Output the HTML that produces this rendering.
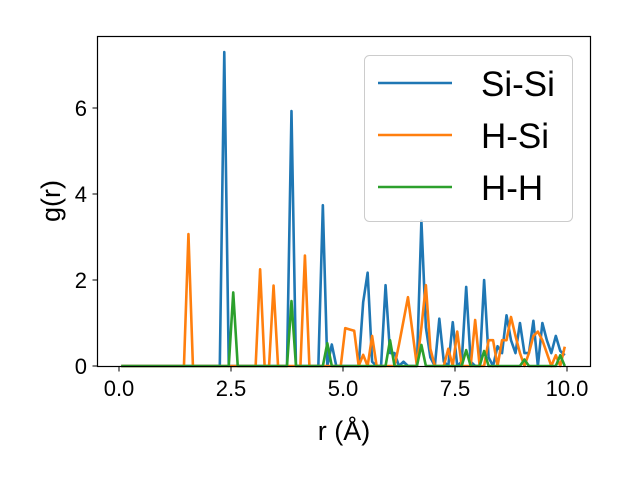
<!DOCTYPE html>
<html><head><meta charset="utf-8"><style>
html,body{margin:0;padding:0;background:#fff}
svg{display:block;font-family:"Liberation Sans","DejaVu Sans",sans-serif}
</style></head><body>
<svg id="chart" width="640" height="480" viewBox="0 0 640 480" xmlns="http://www.w3.org/2000/svg">
<rect x="0" y="0" width="640" height="480" fill="#fff"/>
<g id="series"></g>
<rect x="97.5" y="36.5" width="493" height="330" fill="none" stroke="#000" stroke-width="1.2"/>
<g id="ticks"></g>
<text x="344" y="440" font-size="27" text-anchor="middle">r (Å)</text>
<text x="60" y="201" font-size="27" text-anchor="middle" transform="rotate(-90 60 201)">g(r)</text>
<g>
<rect x="364.5" y="55.5" width="208" height="166" rx="5" fill="#fff" fill-opacity="0.8" stroke="#ccc" stroke-width="1"/>
<line x1="378" y1="83" x2="452" y2="83" stroke="#1f77b4" stroke-width="2.6"/>
<text x="481" y="96" font-size="35">Si-Si</text>
<line x1="378" y1="135" x2="452" y2="135" stroke="#ff7f0e" stroke-width="2.6"/>
<text x="481" y="148" font-size="35">H-Si</text>
<line x1="378" y1="187" x2="452" y2="187" stroke="#2ca02c" stroke-width="2.6"/>
<text x="481" y="200" font-size="35">H-H</text>
</g>
</svg>
<script>
const siSi = [
0,0,0,0,0,0,0,0,0,0,
0,0,0,0,0,0,0,0,0,0,
0,0,0,7.3,0,0,0,0,0,0,
0,0,0,0,0,0,0,0,5.93,0,
0,0,0,0,0,3.74,0,0.5,0,0,
0,0,0,0,1.48,2.17,0.1,0,0,1.88,
0.3,0.3,0,0.1,0,0,0,3.38,0.9,0.2,
0,1.1,0.1,0,1.02,0,0.1,1.84,0.1,0,
0,2.0,0.2,0,0.46,0.3,1.18,0.6,0.3,1.0,
0.3,0.3,1.05,0,1.0,0.6,0.3,0.7,0.35,0.25];
const hSi = [
0,0,0,0,0,0,0,0,0,0,
0,0,0,0,0,3.07,0,0,0,0,
0,0,0,0,0,0,0,0,0,0,
0,2.25,0,0,1.87,0,0,0,0,0,
0,2.57,0,0,0,0,0,0,0,0,
0.88,0.85,0.82,0,0.26,0,0.7,0,0,0,
0,0,0.5,1.05,1.6,0.8,0,0.9,1.88,0.4,
0,0,0,0.4,0,0.8,0,0,0,1.07,
0,0,0.6,0.6,0,0.6,0.6,1.14,0.7,0.3,
0,0.3,0.7,0.8,0.6,0.3,0,0.25,0,0.45];
const hH = [
0,0,0,0,0,0,0,0,0,0,
0,0,0,0,0,0,0,0,0,0,
0,0,0,0,0,1.71,0,0,0,0,
0,0,0,0,0,0,0,0,1.51,0,
0,0,0,0,0,0,0.53,0,0,0,
0,0,0,0,0,0,0,0,0,0,
0.6,0,0,0,0,0,0,0.49,0,0,
0,0,0,0,0,0,0,0.37,0,0,
0,0.35,0,0,0,0,0,0,0,0,
0.15,0,0,0,0,0,0,0,0.25,0];
const binStart = 0.05, binStep = 0.1;
const xTicks = [0, 2.5, 5, 7.5, 10];
const xTickLabels = ["0.0", "2.5", "5.0", "7.5", "10.0"];
const yTicks = [0, 2, 4, 6];
const yTickLabels = ["0", "2", "4", "6"];

const NS = "http://www.w3.org/2000/svg";
function xs(v){ return 119 + v * 44.8; }
function ys(v){ return 366 - v * 43; }

const seriesG = document.getElementById("series");
function drawSeries(vals, color, name){
  const pts = vals.map((v,i)=> xs(binStart + i*binStep).toFixed(2) + "," + ys(v).toFixed(2)).join(" ");
  const pl = document.createElementNS(NS, "polyline");
  pl.setAttribute("points", pts);
  pl.setAttribute("fill", "none");
  pl.setAttribute("stroke", color);
  pl.setAttribute("stroke-width", "2.6");
  pl.setAttribute("stroke-linejoin", "round");
  
  
  seriesG.appendChild(pl);
}
drawSeries(siSi, "#1f77b4", "series-si-si");
drawSeries(hSi, "#ff7f0e", "series-h-si");
drawSeries(hH, "#2ca02c", "series-h-h");

const tg = document.getElementById("ticks");
xTicks.forEach((t,i)=>{
  const l = document.createElementNS(NS, "line");
  l.setAttribute("x1", xs(t)); l.setAttribute("x2", xs(t));
  l.setAttribute("y1", 366.5); l.setAttribute("y2", 371.5);
  l.setAttribute("stroke", "#000"); l.setAttribute("stroke-width", "1");
  
  
  tg.appendChild(l);
  const tx = document.createElementNS(NS, "text");
  tx.setAttribute("x", xs(t)); tx.setAttribute("y", 396);
  tx.setAttribute("font-size", "22"); tx.setAttribute("text-anchor", "middle");
  tx.textContent = xTickLabels[i];
  
  
  tg.appendChild(tx);
});
yTicks.forEach((t,i)=>{
  const l = document.createElementNS(NS, "line");
  l.setAttribute("x1", 92.5); l.setAttribute("x2", 97.5);
  l.setAttribute("y1", ys(t)); l.setAttribute("y2", ys(t));
  l.setAttribute("stroke", "#000"); l.setAttribute("stroke-width", "1");
  
  
  tg.appendChild(l);
  const tx = document.createElementNS(NS, "text");
  tx.setAttribute("x", 87); tx.setAttribute("y", ys(t) + 8);
  tx.setAttribute("font-size", "22"); tx.setAttribute("text-anchor", "end");
  tx.textContent = yTickLabels[i];
  
  
  tg.appendChild(tx);
});
</script>
</body></html>
